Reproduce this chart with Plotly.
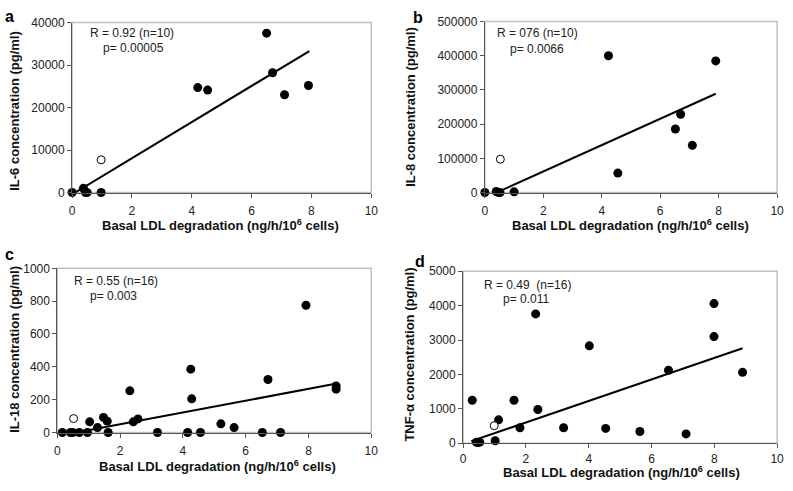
import plotly.graph_objects as go

W, H = 793, 491

# panel a: IL-6
a_x = [0, 0.38, 0.45, 0.5, 0.97, 4.2, 4.53, 6.5, 6.7, 7.1, 7.9]
a_y = [0, 1000, 0, 0, 0, 24700, 24100, 37500, 28200, 23000, 25200]
a_open_x = [0.97]
a_open_y = [7700]
a_fit_x = [0.1, 7.93]
a_fit_y = [0, 33300]

# panel b: IL-8
b_x = [0, 0.39, 0.47, 0.52, 1.0, 4.23, 4.55, 6.52, 6.7, 7.1, 7.9]
b_y = [0, 3000, 0, 0, 2000, 400000, 57000, 186000, 229000, 138000, 385000]
b_open_x = [0.53]
b_open_y = [97500]
b_fit_x = [0.4, 7.9]
b_fit_y = [0, 289000]

# panel c: IL-18
c_x = [0.16, 0.42, 0.49, 0.7, 0.96, 1.62, 3.19, 4.15, 4.56, 6.53, 7.11,
       1.03, 1.28, 1.47, 1.59, 2.31, 2.42, 2.57, 4.25, 4.28, 5.21, 5.63,
       6.71, 7.92, 8.88, 8.88]
c_y = [0, 0, 0, 0, 0, 0, 0, 0, 0, 0, 0,
       65, 30, 92, 69, 254, 65, 83, 386, 205, 53, 30,
       323, 775, 284, 264]
c_open_x = [0.52]
c_open_y = [85]
c_fit_x = [0.6, 8.9]
c_fit_y = [0, 298]

# panel d: TNF-alpha
d_x = [0.29, 0.42, 0.47, 0.53, 1.02, 1.13, 1.62, 1.81, 2.31, 2.38, 3.2,
       4.02, 4.54, 5.63, 6.54, 7.1, 7.99, 7.99, 8.9]
d_y = [1250, 30, 20, 30, 70, 680, 1250, 450, 3760, 980, 450,
       2830, 430, 340, 2120, 270, 4060, 3100, 2060]
d_open_x = [0.99]
d_open_y = [510]
d_fit_x = [0.26, 8.9]
d_fit_y = [60, 2760]

y_titles = ["IL-6 concentration (pg/ml)", "IL-8 concentration (pg/ml)",
            "IL-18 concentration (pg/ml)", "TNF-\u03b1 concentration (pg/ml)"]
x_title = "Basal LDL degradation (ng/h/10<sup>6</sup> cells)"
stats = [("R = 0.92 (n=10)", "p= 0.00005"), ("R = 076 (n=10)", "p= 0.0066"),
         ("R = 0.55 (n=16)", "p= 0.003"), ("R = 0.49  (n=16)", "p= 0.011")]
letters = ["a", "b", "c", "d"]
y_ranges = [[0, 40000], [0, 500000], [0, 1000], [0, 5000]]
y_dticks = [10000, 100000, 200, 1000]


def px(x):
    return x / W


def py(y):
    return 1 - y / H


# plot boxes in pixels: left, right, top, bottom
boxes = [(70, 373, 16, 191), (488, 784, 15, 191),
         (55, 373, 269, 438), (466, 784, 272, 449)]
ytitle_pos = [(12, 107), (412, 103), (12, 352), (412, 358)]
xtitle_pos = [(220, 224), (636, 224), (217, 472), (626, 479)]
xtick_standoff = [3, 3, 3, 0]
stat_pos = [((86, 27), (99, 42)), ((498, 27), (511, 43)),
            ((70, 282), (86, 297)), ((485, 286), (504, 301))]
letter_pos = [(7, 10), (420, 11), (7, 255), (422, 262)]

panels = [(a_x, a_y, a_open_x, a_open_y, a_fit_x, a_fit_y),
          (b_x, b_y, b_open_x, b_open_y, b_fit_x, b_fit_y),
          (c_x, c_y, c_open_x, c_open_y, c_fit_x, c_fit_y),
          (d_x, d_y, d_open_x, d_open_y, d_fit_x, d_fit_y)]

font = "Liberation Sans, Arial, sans-serif"
fig = go.Figure()
layout = dict(width=W, height=H, margin=dict(l=0, r=0, t=0, b=0),
              paper_bgcolor="white", plot_bgcolor="white",
              showlegend=False, font=dict(family=font, size=12, color="#222"))
shapes = []
annotations = []

for i, (xs, ys, ox, oy, fx, fy) in enumerate(panels):
    n = "" if i == 0 else str(i + 1)
    xa, ya = "x" + n, "y" + n
    fig.add_trace(go.Scatter(x=fx, y=fy, mode="lines", xaxis=xa, yaxis=ya,
                             line=dict(color="black", width=2)))
    fig.add_trace(go.Scatter(x=xs, y=ys, mode="markers", xaxis=xa, yaxis=ya,
                             cliponaxis=False,
                             marker=dict(color="black", size=9, line=dict(width=0))))
    fig.add_trace(go.Scatter(x=ox, y=oy, mode="markers", xaxis=xa, yaxis=ya,
                             cliponaxis=False,
                             marker=dict(color="white", size=8,
                                         line=dict(color="black", width=1))))
    l, r, t, b = boxes[i]
    axis_common = dict(showgrid=False, zeroline=False, showline=True,
                       linecolor="#555", linewidth=1, ticks="outside",
                       ticklen=4, tickcolor="#555", tickformat="d",
                       tickfont=dict(family=font, size=12, color="#222"))
    layout["xaxis" + n] = dict(domain=[px(l), px(r)], range=[0, 10], dtick=2,
                               anchor=ya, ticklabelstandoff=xtick_standoff[i],
                               **axis_common)
    layout["yaxis" + n] = dict(domain=[py(b), py(t)], range=y_ranges[i],
                               dtick=y_dticks[i], anchor=xa, **axis_common)
    shapes.append(dict(type="rect", xref="paper", yref="paper",
                       x0=px(l), x1=px(r), y0=py(b), y1=py(t),
                       line=dict(color="#c0c0c0", width=1.5), layer="below"))
    annotations.append(dict(text="<b>%s</b>" % y_titles[i], textangle=-90,
                            x=px(ytitle_pos[i][0]), y=py(ytitle_pos[i][1]),
                            xref="paper", yref="paper", showarrow=False,
                            xanchor="center", yanchor="middle",
                            font=dict(size=13, color="#111")))
    annotations.append(dict(text="<b>%s</b>" % x_title,
                            x=px(xtitle_pos[i][0]), y=py(xtitle_pos[i][1]),
                            xref="paper", yref="paper", showarrow=False,
                            xanchor="center", yanchor="middle",
                            font=dict(size=13, color="#111")))
    for txt, (sx, sy) in zip(stats[i], stat_pos[i]):
        annotations.append(dict(text=txt, x=px(sx), y=py(sy), xref="paper",
                                yref="paper", showarrow=False, xanchor="left",
                                yanchor="middle", font=dict(size=12, color="#222")))
    annotations.append(dict(text="<b>%s</b>" % letters[i],
                            x=px(letter_pos[i][0]), y=py(letter_pos[i][1]),
                            xref="paper", yref="paper", showarrow=False,
                            xanchor="center", yanchor="middle",
                            font=dict(size=16, color="black")))

layout["shapes"] = shapes
layout["annotations"] = annotations
fig.update_layout(**layout)

fig.write_html("out.html", config={"displayModeBar": False},
               post_script="document.body.style.margin='0';"
                           "document.body.style.overflow='hidden';")
